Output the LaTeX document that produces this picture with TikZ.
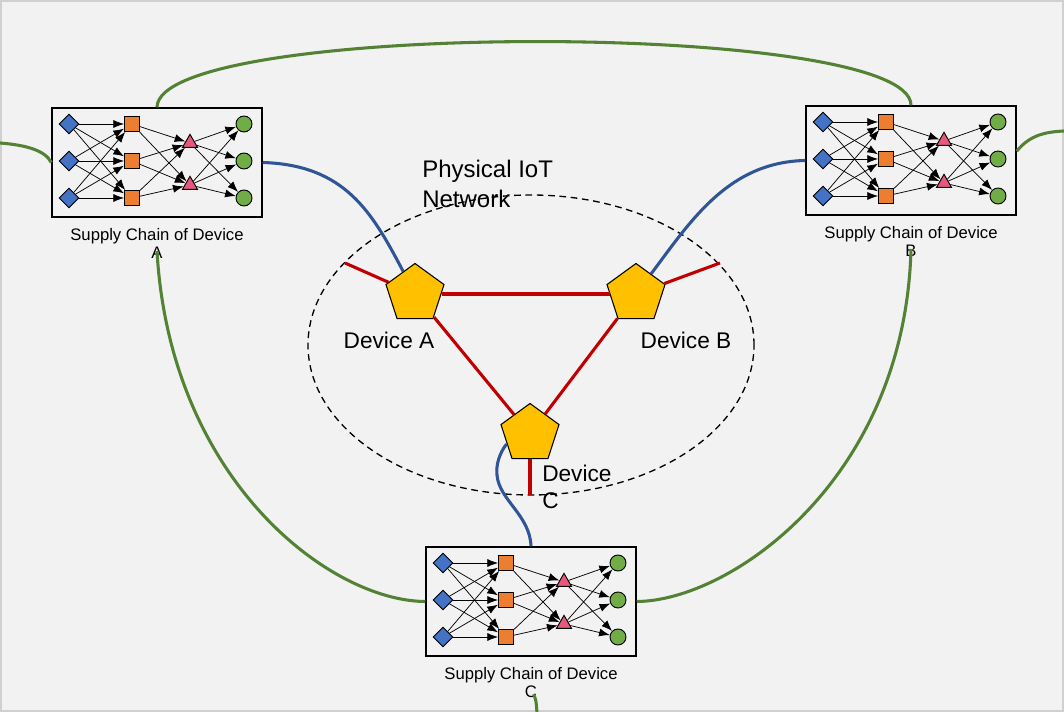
\documentclass[tikz,border=0pt]{standalone}
\usepackage{fontspec}
\setmainfont{Liberation Sans}
\usetikzlibrary{shapes.geometric,arrows.meta,positioning}

\definecolor{bgGray}   {HTML}{F2F2F2}
\definecolor{frameGray}{HTML}{D0D0D0}
\definecolor{srcBlue}  {HTML}{4472C4}
\definecolor{hubOrange}{HTML}{ED7D31}
\definecolor{midPink}  {HTML}{E8577D}
\definecolor{dstGreen} {HTML}{70AD47}
\definecolor{devGold}  {HTML}{FFC000}
\definecolor{meshRed}  {HTML}{C00000}
\definecolor{linkBlue} {HTML}{2F5597}
\definecolor{loopGreen}{HTML}{548235}

\begin{document}
\begin{tikzpicture}[x=0.75pt, y=-0.75pt,
    src/.style={diamond, draw=black, fill=srcBlue, minimum size=15pt, inner sep=0pt, line width=0.7pt},
    hub/.style={rectangle, draw=black, fill=hubOrange, minimum size=11.25pt, inner sep=0pt, line width=0.7pt},
    mid/.style={regular polygon, regular polygon sides=3, draw=black, fill=midPink, minimum size=13pt, inner sep=0pt, line width=0.7pt},
    dst/.style={circle, draw=black, fill=dstGreen, minimum size=12pt, inner sep=0pt, line width=0.7pt},
    flow/.style={-{Latex[length=8pt,width=6pt]}, line width=0.55pt},
    chainbox/.style={draw=black, line width=1.1pt, minimum width=157.5pt, minimum height=81.75pt, inner sep=0pt},
    chainlabel/.style={align=center, inner sep=0pt, font=\fontsize{12.5}{13.5}\selectfont},
    device/.style={regular polygon, regular polygon sides=5, draw=black, fill=devGold, minimum size=45.75pt, inner sep=0pt, line width=0.8pt},
    devlabel/.style={inner sep=0pt, font=\fontsize{17}{20.25}\selectfont},
    mesh/.style={meshRed, line width=2.3pt},
    link/.style={linkBlue, line width=2.3pt},
    loop/.style={loopGreen, line width=2.3pt}]
  \useasboundingbox (0,0) rectangle (1064,712);
  %--- background ---
  \fill[bgGray] (0,0) rectangle (1064,712);
  \draw[frameGray, line width=1pt] (1,1) rectangle (1063,711);

  %--- supply chains ---
  \foreach \p/\bx/\by in {A/52/108, B/806/106, C/426/547}{
    \begin{scope}[shift={(\bx,\by)}]
      \node[chainbox] (\p-box) at (105,54.5) {};
      \foreach \i in {1,2,3}{
        \node[src] (\p-d\i) at (17,{16+37*(\i-1)}) {};
        \node[hub] (\p-s\i) at (80,{16+37*(\i-1)}) {};
        \node[dst] (\p-c\i) at (192,{16+37*(\i-1)}) {};
      }
      \foreach \i in {1,2}
        \node[mid] (\p-t\i) at (138,{35+42*(\i-1)}) {};
      \foreach \i in {1,2,3}
        \foreach \j in {1,2,3}
          \draw[flow] (\p-d\i) -- (\p-s\j);
      \foreach \i in {1,2,3}
        \foreach \j in {1,2}
          \draw[flow] (\p-s\i) -- (\p-t\j);
      \foreach \i in {1,2}
        \foreach \j in {1,2,3}
          \draw[flow] (\p-t\i) -- (\p-c\j);
      \node[chainlabel, below=8pt of \p-box] (\p-lbl) {Supply Chain of Device\\\p};
    \end{scope}
  }

  %--- physical network ---
  \draw[dash pattern=on 5pt off 3.5pt, line width=1pt] (531,345) ellipse [x radius=167.25pt, y radius=112.5pt];
  \node[devlabel, align=left, anchor=north west, font=\fontsize{18}{22.5}\selectfont] (net) at (422,160) {Physical IoT\\Network};

  \node[device] (A) at (415,294) {};
  \node[device] (B) at (636,294) {};
  \node[device] (C) at (530,434) {};
  \node[devlabel] (A-name) at (389,340) {Device A};
  \node[devlabel] (B-name) at (686,340) {Device B};
  \node[devlabel, align=left, anchor=north west] (C-name) at (542,465) {Device\\C};

  \coordinate (stubA) at (345,263);
  \coordinate (stubB) at (720,263);
  \coordinate (stubC) at (530,495);
  \draw[mesh] (A) -- (B);
  \draw[mesh] (A) -- (C);
  \draw[mesh] (B) -- (C);
  \draw[mesh] (A) -- (stubA);
  \draw[mesh] (B) -- (stubB);
  \draw[mesh] (C) -- (stubC);

  %--- links from chains to devices ---
  \draw[link] (A-box.east) .. controls (345,165) and (372,212) .. (A);
  \draw[link] (B-box.west) .. controls (728,162) and (690,222) .. (B);
  \draw[link] (C) .. controls (505,445) and (495,460) .. (497,475)
    .. controls (499,500) and (530,515) .. (C-box.north);

  %--- chain loops ---
  \coordinate (edgeL) at (0,143);
  \coordinate (edgeR) at (1064,131);
  \coordinate (edgeBot) at (537,713);
  \draw[loop] (A-box.north) .. controls (158,20) and (911,20) .. (B-box.north);
  \draw[loop] (edgeL) .. controls (25,145) and (45,150) .. (A-box.west);
  \draw[loop] ([yshift=7pt]B-box.east) .. controls (1030,135) and (1045,132) .. (edgeR);
  \draw[loop] ([yshift=6pt]A-lbl.south) .. controls (170,480) and (330,601) .. (C-box.west);
  \draw[loop] ([yshift=6pt]B-lbl.south) .. controls (905,480) and (730,601) .. (C-box.east);
  \draw[loop] ([xshift=2pt,yshift=3pt]C-lbl.south) .. controls (536,700) .. (edgeBot);
\end{tikzpicture}
\end{document}
